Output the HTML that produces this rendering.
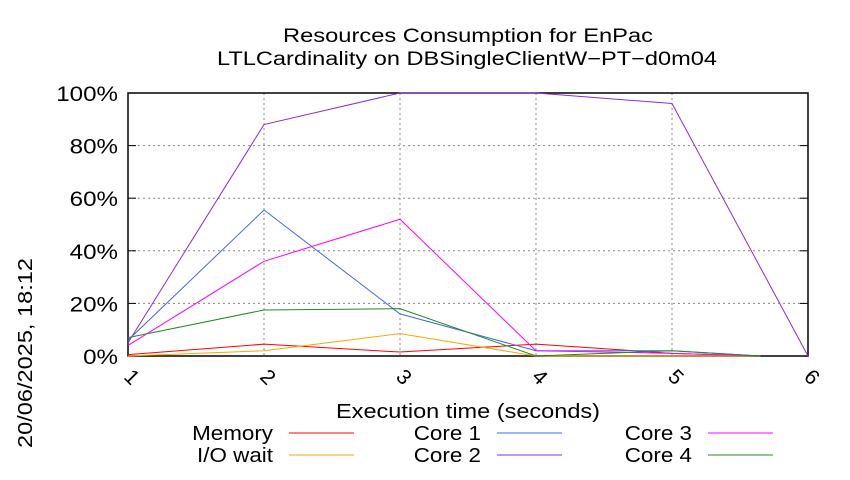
<!DOCTYPE html>
<html><head><meta charset="utf-8"><style>
body{margin:0;background:#fff;width:850px;height:475px;overflow:hidden}
svg text{font-family:"Liberation Sans",sans-serif;fill:#000}
</style></head><body>
<svg width="850" height="475">
<text x="468" y="42" font-size="19" text-anchor="middle" textLength="370" lengthAdjust="spacingAndGlyphs">Resources Consumption for EnPac</text>
<text x="467" y="65" font-size="19" text-anchor="middle" textLength="500" lengthAdjust="spacingAndGlyphs">LTLCardinality on DBSingleClientW−PT−d0m04</text>
<text transform="translate(32,353) rotate(-90)" font-size="20" text-anchor="middle" textLength="190" lengthAdjust="spacingAndGlyphs">20/06/2025, 18:12</text>
<text x="468" y="418" font-size="20" text-anchor="middle" textLength="264" lengthAdjust="spacingAndGlyphs">Execution time (seconds)</text>
<g id="grid"></g><g id="axes"></g><g id="series"></g><g id="legend"></g>
</svg>
<script>
const xTicks=[1,2,3,4,5,6];
const yTicks=[0,20,40,60,80,100];
const names=["Memory","I/O wait","Core 1","Core 2","Core 3","Core 4"];
const colors=["#ff0000","#ffa500","#4169e1","#8a2be2","#ff00ff","#228b22"];
const xsMemory=[1,2,3,4,5,5.65];const ysMemory=[0.5,4.5,1.5,4.5,1,0];
const xsIO=[1,2,3,4,5,5.65];const ysIO=[0,2,8.5,0,0,0];
const xsCore1=[1,2,3,4,5,5.65];const ysCore1=[6,55.5,16,2,2,0];
const xsCore2=[1,2,3,4,5,6];const ysCore2=[5,88,100,100,96,0];
const xsCore3=[1,2,3,4,5,5.65];const ysCore3=[4,36,52,2,1,0];
const xsCore4=[1,2,3,4,5,5.65];const ysCore4=[7,17.5,18,0,2,0];
const seriesX=[xsMemory,xsIO,xsCore1,xsCore2,xsCore3,xsCore4];
const seriesY=[ysMemory,ysIO,ysCore1,ysCore2,ysCore3,ysCore4];
const L=128,R=808,T=93,B=356,NS="http://www.w3.org/2000/svg";
const sx=v=>L+(v-1)/(6-1)*(R-L), sy=v=>B-v/100*(B-T);
function mk(p,t,a){const e=document.createElementNS(NS,t);for(const k in a)e.setAttribute(k,a[k]);p.appendChild(e);return e;}
function stretch(e,f){const w=e.getComputedTextLength();e.setAttribute('textLength',w*f);e.setAttribute('lengthAdjust','spacingAndGlyphs');}
const grid=document.getElementById('grid'),axes=document.getElementById('axes');
xTicks.forEach(t=>{
 const l=mk(grid,'line',{x1:sx(t),x2:sx(t),y1:T,y2:B,stroke:'#888','stroke-dasharray':'2,3','stroke-width':1});
 
 
 const tx=mk(axes,'text',{x:sx(t)+4,y:B+28,'font-size':21,transform:`rotate(45 ${sx(t)+4} ${B+21})`,'text-anchor':'middle'});
 tx.textContent=t;
 
 
});
yTicks.forEach(t=>{
 const l=mk(grid,'line',{x1:L,x2:R,y1:sy(t),y2:sy(t),stroke:'#888','stroke-dasharray':'2,3','stroke-width':1});
 
 
 mk(axes,'line',{x1:L,x2:L+8,y1:sy(t),y2:sy(t),stroke:'#000'});
 mk(axes,'line',{x1:R,x2:R-8,y1:sy(t),y2:sy(t),stroke:'#000'});
 const tx=mk(axes,'text',{x:L-10,y:sy(t)+8,'font-size':21,'text-anchor':'end'});
 tx.textContent=t+'%';
 
 
 stretch(tx,1.15);
});
const fr=mk(axes,'rect',{x:L,y:T,width:R-L,height:B-T,fill:'none',stroke:'#000','stroke-width':1.5});


const sg=document.getElementById('series'),lg=document.getElementById('legend');
const lgPos=[[273,433],[273,455],[481,433],[481,455],[692,433],[692,455]];
names.forEach((n,i)=>{
 const pts=seriesX[i].map((x,j)=>sx(x)+','+sy(seriesY[i][j])).join(' ');
 const pl=mk(sg,'polyline',{points:pts,fill:'none',stroke:colors[i],'stroke-width':1});
 
 
 const [lx,ly]=lgPos[i];
 const tx=mk(lg,'text',{x:lx,y:ly+7,'font-size':20,'text-anchor':'end'});
 tx.textContent=n;
 
 
 stretch(tx,1.12);
 const ll=mk(lg,'line',{x1:lx+16,x2:lx+81,y1:ly,y2:ly,stroke:colors[i],'stroke-width':1});
 
 
});
</script>
</body></html>
